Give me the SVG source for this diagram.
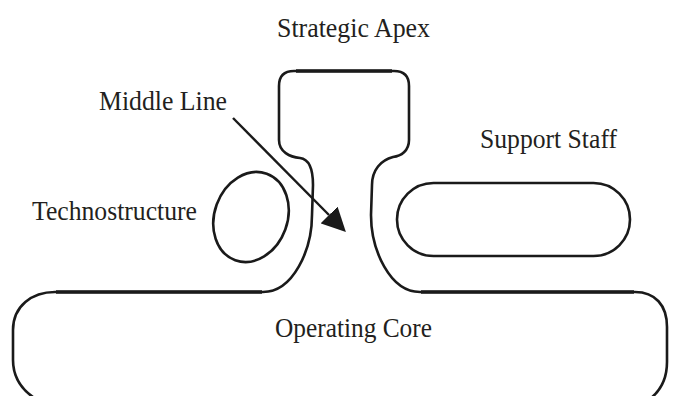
<svg xmlns="http://www.w3.org/2000/svg" width="677" height="396" viewBox="0 0 677 396">
  <style>
    .outline { fill: none; stroke: #1a1a1a; stroke-width: 2.6; stroke-linejoin: round; stroke-linecap: round; }
    .edge { fill: none; stroke: #1a1a1a; stroke-width: 3.6; stroke-linecap: butt; }
    .label { font-family: "Liberation Serif", "Times New Roman", serif; font-size: 26.5px; fill: #231f20; }
    .arrow { fill: none; stroke: #1a1a1a; stroke-width: 2.4; }
  </style>
  <defs>
    <marker id="head" viewBox="0 0 24 24" refX="0" refY="12" markerWidth="24" markerHeight="24" markerUnits="userSpaceOnUse" orient="auto">
      <path d="M0,0 L24,12 L0,24 Z" fill="#1a1a1a"/>
    </marker>
  </defs>

  <rect width="677" height="396" fill="#ffffff"/>

  <!-- Continuous body: operating core, neck (middle line) and strategic apex -->
  <g id="operating-core">
    <path class="outline" d="M 55,292 L 263,292 C 293,292 312,250 312,215 L 313,185 C 313,166 308,159 300,158 C 290,157 279,152 279,140 L 279,86 Q 279,71 294,71 L 394,71 Q 409,71 409,86 L 409,140 C 409,151 401,156 393,157 C 381,160 372,170 372,185 L 371,215 C 371,250 390,292 420,292 L 635,292 C 655,292 667,305 667,327 L 667,362 C 667,382 657,396 642,404 L 45,404 C 28,396 13,382 13,360 L 13,330 C 13,306 32,292 55,292 Z"/>
    <!-- heavier horizontal runs -->
    <line class="edge" x1="56" y1="292" x2="262" y2="292"/>
    <line class="edge" x1="421" y1="292" x2="634" y2="292"/>
    <text class="label" x="275" y="337" textLength="157" lengthAdjust="spacingAndGlyphs">Operating Core</text>
  </g>

  <g id="strategic-apex">
    <line class="edge" x1="296" y1="71" x2="392" y2="71"/>
    <text class="label" x="277" y="37" textLength="153" lengthAdjust="spacingAndGlyphs">Strategic Apex</text>
  </g>

  <g id="middle-line">
    <text class="label" x="99" y="110" textLength="128" lengthAdjust="spacingAndGlyphs">Middle Line</text>
  </g>

  <g id="technostructure">
    <ellipse class="outline" cx="251" cy="217" rx="36.5" ry="46" transform="rotate(20 251 217)"/>
    <text class="label" x="32" y="220" textLength="165" lengthAdjust="spacingAndGlyphs">Technostructure</text>
  </g>

  <g id="support-staff">
    <rect class="outline" x="397" y="183" width="233" height="73" rx="36.5" ry="36.5"/>
    <text class="label" x="480" y="148" textLength="137" lengthAdjust="spacingAndGlyphs">Support Staff</text>
  </g>

  <g id="connectors">
    <line class="arrow" x1="233" y1="118" x2="329" y2="215" marker-end="url(#head)"/>
  </g>
</svg>
